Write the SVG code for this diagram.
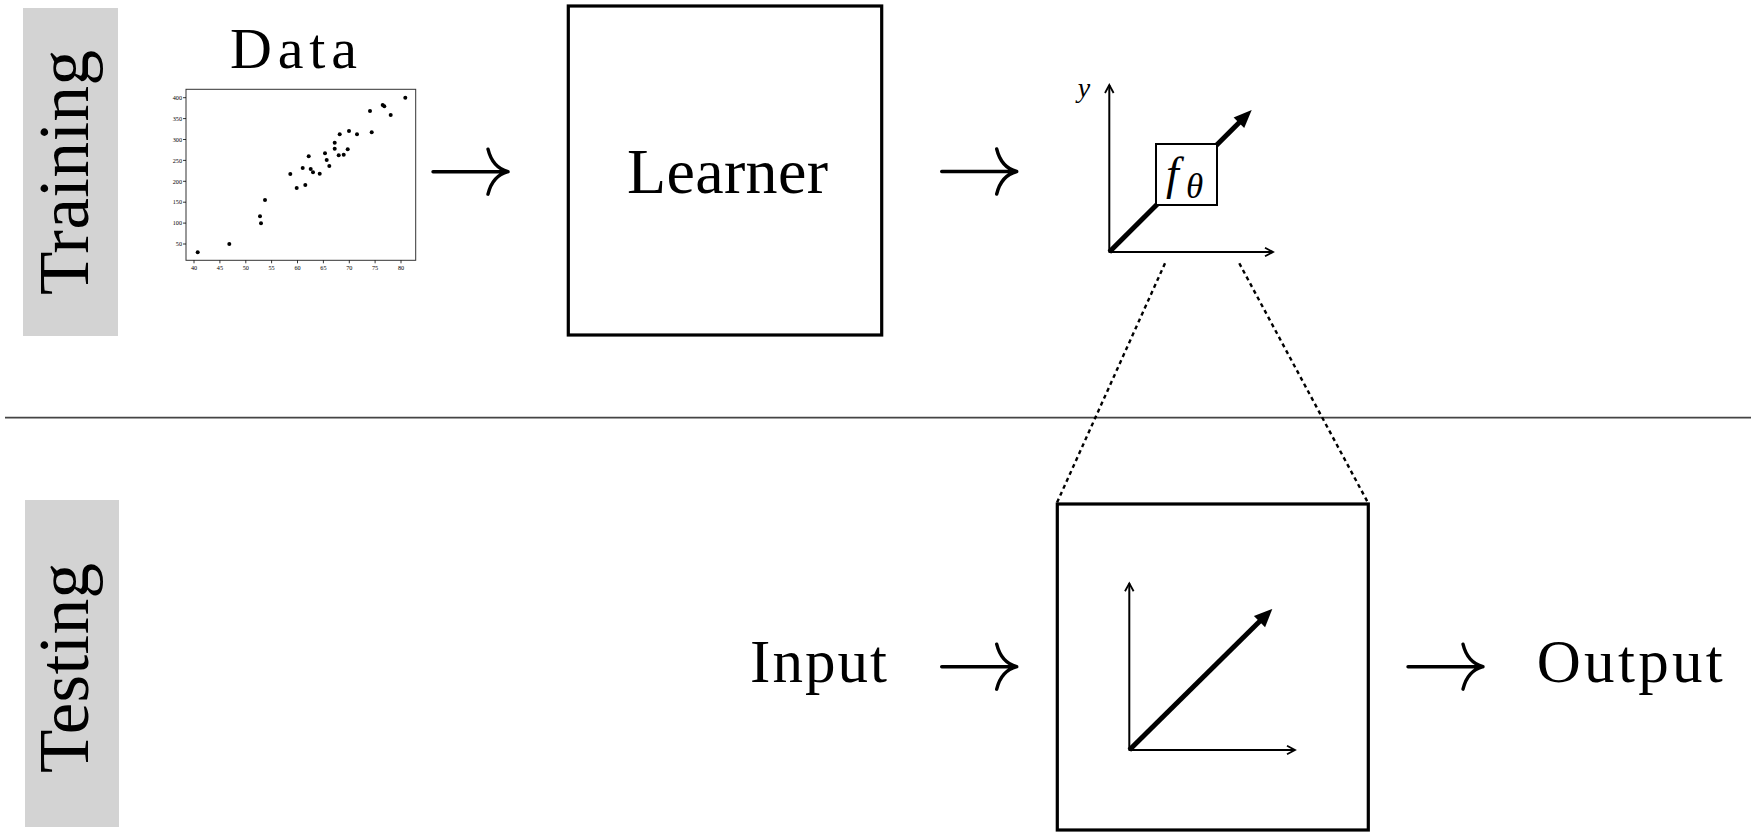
<svg xmlns="http://www.w3.org/2000/svg" width="1757" height="837" viewBox="0 0 1757 837">
  <style>
    text { font-family: "Liberation Serif", "DejaVu Serif", serif; fill: #000; }
    .big { font-size: 61px; }
    .side { font-size: 71px; }
    .band { fill: #d3d3d3; }
    .box { fill: #fff; stroke: #000; stroke-width: 3.2; }
    .rarrow { fill: none; stroke: #000; stroke-width: 3.4; stroke-linecap: round; }
    .axis { fill: none; stroke: #000; stroke-width: 2; }
    .thick { fill: none; stroke: #000; stroke-width: 5; }
    .dash { fill: none; stroke: #000; stroke-width: 2.4; stroke-dasharray: 4 3.6; }
    .tick { font-family: "DejaVu Sans", sans-serif; font-size: 6.2px; }
    .dot { fill: #000; }
  </style>
  <defs>
    <!-- open chevron tip for the thin axes -->
    <marker id="open" viewBox="-10 -6 12 12" refX="0" refY="0" markerWidth="12" markerHeight="12" markerUnits="userSpaceOnUse" orient="auto">
      <path d="M-8,-4.3 L0,0 L-8,4.3" fill="none" stroke="#000" stroke-width="1.8" stroke-linejoin="miter"/>
    </marker>
    <!-- long right arrow, tip at the origin -->
    <path id="rarr" d="M-75,0 L0,0 M-20,-22.5 Q-15.5,-4 0,0 M-20,22.5 Q-15.5,4 0,0"/>
  </defs>

  <rect width="1757" height="837" fill="#fff"/>

  <!-- section labels -->
  <g id="training-label">
    <rect class="band" x="23" y="8" width="95" height="328"/>
    <text class="side" transform="translate(88,172.5) rotate(-90)" text-anchor="middle" textLength="245" lengthAdjust="spacing">Training</text>
  </g>
  <g id="testing-label">
    <rect class="band" x="25" y="500" width="94" height="327"/>
    <text class="side" transform="translate(88,668) rotate(-90)" text-anchor="middle" textLength="210" lengthAdjust="spacing">Testing</text>
  </g>

  <!-- divider between the two phases -->
  <line x1="5" y1="417.7" x2="1751" y2="417.7" stroke="#444" stroke-width="1.7"/>

  <!-- training data scatter plot -->
  <g id="data">
    <text x="230" y="68.3" font-size="58" textLength="127" lengthAdjust="spacing">Data</text>
    <rect x="186" y="89.3" width="229.7" height="171" fill="#fff" stroke="#333" stroke-width="1"/>
    <g stroke="#000" stroke-width="0.8">
      <line x1="183" y1="97.7" x2="186" y2="97.7"/>
      <line x1="183" y1="118.6" x2="186" y2="118.6"/>
      <line x1="183" y1="139.5" x2="186" y2="139.5"/>
      <line x1="183" y1="160.4" x2="186" y2="160.4"/>
      <line x1="183" y1="181.3" x2="186" y2="181.3"/>
      <line x1="183" y1="202.2" x2="186" y2="202.2"/>
      <line x1="183" y1="223.1" x2="186" y2="223.1"/>
      <line x1="183" y1="244" x2="186" y2="244"/>
      <line x1="194" y1="260.3" x2="194" y2="263.3"/>
      <line x1="219.9" y1="260.3" x2="219.9" y2="263.3"/>
      <line x1="245.8" y1="260.3" x2="245.8" y2="263.3"/>
      <line x1="271.6" y1="260.3" x2="271.6" y2="263.3"/>
      <line x1="297.5" y1="260.3" x2="297.5" y2="263.3"/>
      <line x1="323.4" y1="260.3" x2="323.4" y2="263.3"/>
      <line x1="349.3" y1="260.3" x2="349.3" y2="263.3"/>
      <line x1="375.1" y1="260.3" x2="375.1" y2="263.3"/>
      <line x1="401" y1="260.3" x2="401" y2="263.3"/>
    </g>
    <g class="tick" text-anchor="end">
      <text x="182" y="99.9">400</text>
      <text x="182" y="120.8">350</text>
      <text x="182" y="141.7">300</text>
      <text x="182" y="162.6">250</text>
      <text x="182" y="183.5">200</text>
      <text x="182" y="204.4">150</text>
      <text x="182" y="225.3">100</text>
      <text x="182" y="246.2">50</text>
    </g>
    <g class="tick" text-anchor="middle">
      <text x="194" y="269.5">40</text>
      <text x="219.9" y="269.5">45</text>
      <text x="245.8" y="269.5">50</text>
      <text x="271.6" y="269.5">55</text>
      <text x="297.5" y="269.5">60</text>
      <text x="323.4" y="269.5">65</text>
      <text x="349.3" y="269.5">70</text>
      <text x="375.1" y="269.5">75</text>
      <text x="401" y="269.5">80</text>
    </g>
    <g class="dot">
      <circle cx="197.7" cy="252.3" r="2"/>
      <circle cx="229.3" cy="244" r="2"/>
      <circle cx="260" cy="216.3" r="2"/>
      <circle cx="261" cy="223.3" r="2"/>
      <circle cx="265" cy="200" r="2"/>
      <circle cx="290.3" cy="174" r="2"/>
      <circle cx="296.7" cy="188" r="2"/>
      <circle cx="302.7" cy="168" r="2"/>
      <circle cx="305.3" cy="185" r="2"/>
      <circle cx="308.7" cy="156.3" r="2"/>
      <circle cx="310.7" cy="169" r="2"/>
      <circle cx="313" cy="172.3" r="2"/>
      <circle cx="319.7" cy="173.7" r="2"/>
      <circle cx="325" cy="153.3" r="2"/>
      <circle cx="326.7" cy="160" r="2"/>
      <circle cx="329.3" cy="166" r="2"/>
      <circle cx="334.7" cy="142.7" r="2"/>
      <circle cx="334.7" cy="148.7" r="2"/>
      <circle cx="338.7" cy="155.3" r="2"/>
      <circle cx="339.7" cy="134.3" r="2"/>
      <circle cx="343.7" cy="154.7" r="2"/>
      <circle cx="347.7" cy="149.3" r="2"/>
      <circle cx="349" cy="131" r="2"/>
      <circle cx="357" cy="134.3" r="2"/>
      <circle cx="370" cy="111" r="2"/>
      <circle cx="371.7" cy="132.3" r="2"/>
      <circle cx="382.7" cy="105" r="2"/>
      <circle cx="384.3" cy="106.3" r="2"/>
      <circle cx="390.7" cy="115" r="2"/>
      <circle cx="405.3" cy="97.7" r="2"/>
    </g>
  </g>

  <!-- learner -->
  <g id="learner">
    <rect class="box" x="568.3" y="6" width="313.4" height="329"/>
    <text x="627" y="193" font-size="64" textLength="201" lengthAdjust="spacing">Learner</text>
  </g>

  <!-- learned model f_theta -->
  <g id="model">
    <line class="axis" x1="1109.3" y1="252" x2="1109.3" y2="85" marker-end="url(#open)"/>
    <line class="axis" x1="1108.5" y1="252" x2="1273" y2="252" marker-end="url(#open)"/>
    <text x="1084" y="97" font-size="28" font-style="italic" text-anchor="middle">y</text>
    <line class="thick" x1="1109.3" y1="252" x2="1239.5" y2="122.2"/>
    <polygon points="1251.7,110 1244.2,128 1233.6,117.4" fill="#000"/>
    <rect x="1156" y="144" width="61" height="61" fill="#fff" stroke="#000" stroke-width="2"/>
    <text x="1166" y="189" font-size="46" font-style="italic">f</text>
    <text x="1186" y="198" font-size="35" font-style="italic">θ</text>
  </g>

  <!-- the model applied at test time -->
  <g id="model-test">
    <rect class="box" x="1057.3" y="504" width="311" height="326" stroke-width="3.5"/>
    <line class="axis" x1="1129.3" y1="750" x2="1129.3" y2="583.3" marker-end="url(#open)"/>
    <line class="axis" x1="1128.5" y1="750" x2="1295" y2="750" marker-end="url(#open)"/>
    <line class="thick" x1="1129.3" y1="750" x2="1260" y2="621"/>
    <polygon points="1272.3,609 1265.1,627.3 1253.9,615.9" fill="#000"/>
  </g>

  <g id="input">
    <text class="big" x="750" y="681.7" textLength="137" lengthAdjust="spacing">Input</text>
  </g>
  <g id="output">
    <text class="big" x="1536.7" y="681.7" textLength="186" lengthAdjust="spacing">Output</text>
  </g>

  <!-- connectors -->
  <g id="connectors">
    <use href="#rarr" class="rarrow" transform="translate(508,171.7)"/>
    <use href="#rarr" class="rarrow" transform="translate(1016.7,171.5)"/>
    <use href="#rarr" class="rarrow" transform="translate(1016.7,666.7)"/>
    <use href="#rarr" class="rarrow" transform="translate(1483,666.7)"/>
    <line class="dash" x1="1165" y1="263.3" x2="1056.7" y2="503.3"/>
    <line class="dash" x1="1239.3" y1="263.3" x2="1368.3" y2="503.3"/>
  </g>
</svg>
